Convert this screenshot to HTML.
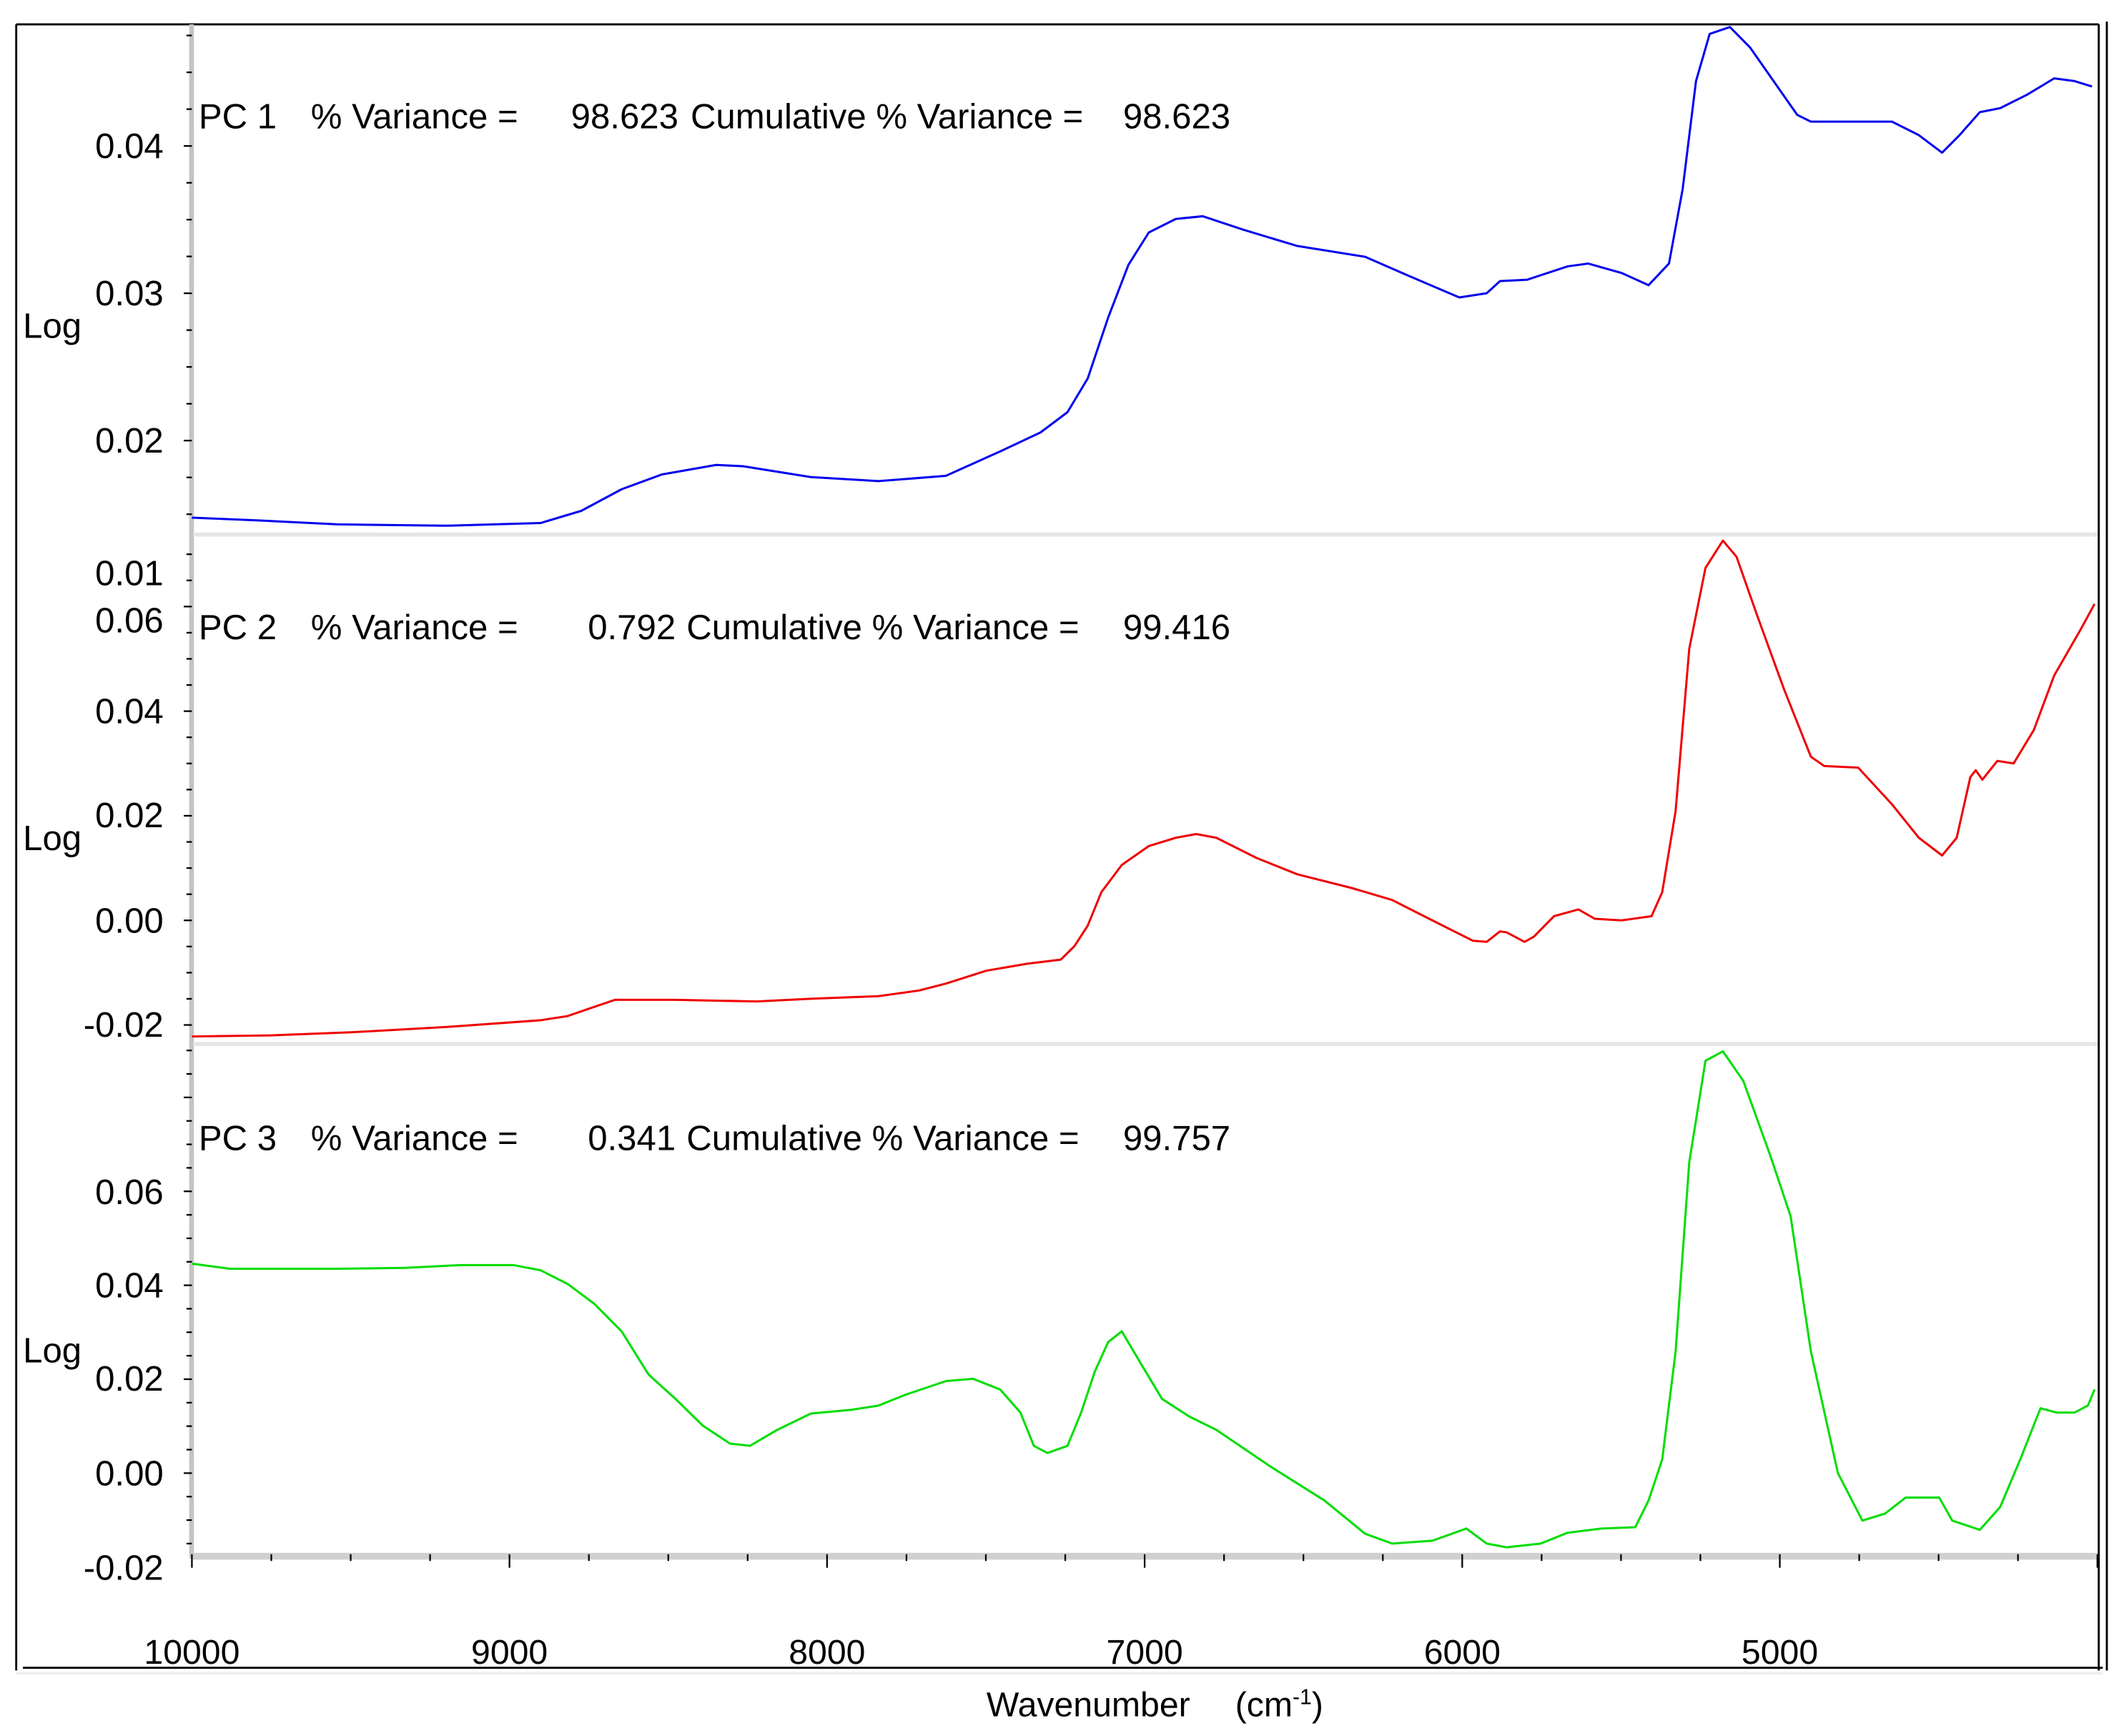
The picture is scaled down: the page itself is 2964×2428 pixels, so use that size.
<!DOCTYPE html>
<html><head><meta charset="utf-8"><style>
html,body{margin:0;padding:0;background:#fff;}
svg{display:block;font-family:"Liberation Sans",Arial,sans-serif;}
</style></head><body>
<svg id="chart" width="2964" height="2428" viewBox="0 0 1568 1284.5" preserveAspectRatio="none" xmlns="http://www.w3.org/2000/svg">
<g>
<line x1="12" y1="18" x2="12" y2="1236" stroke="#000" stroke-width="1.5"/>
<line x1="12" y1="18" x2="1553" y2="18" stroke="#000" stroke-width="1.5"/>
<line x1="1553" y1="18" x2="1553" y2="1236" stroke="#000" stroke-width="1.5"/>
<line x1="1559" y1="16" x2="1559" y2="1236" stroke="#000" stroke-width="1.5"/>
<line x1="17" y1="1234" x2="1556" y2="1234" stroke="#000" stroke-width="1.5"/>
<line x1="12" y1="1238" x2="1556" y2="1238" stroke="#eee" stroke-width="2"/>
</g>
<g id="axes"></g>
<g id="series"></g>
<g font-size="25.5">
<text x="730" y="1270">Wavenumber</text>
<text x="914" y="1270">(cm<tspan font-size="16" dy="-9">-1</tspan><tspan dy="9">)</tspan></text>
</g>
</svg>
<script>
// x axis data
const xTicks = [10000, 9000, 8000, 7000, 6000, 5000];
// PC1
const pc1Wn = [10000,9796,9540,9200,8902,8774,8647,8519,8349,8264,8051,7838,7626,7455,7328,7243,7179,7115,7051,6987,6902,6817,6689,6519,6306,6179,6009,5923,5881,5796,5668,5604,5498,5413,5349,5306,5264,5221,5157,5094,4945,4902,4647,4562,4489,4434,4370,4306,4221,4136,4072,4017];
const pc1Val = [0.01477,0.01459,0.01431,0.01422,0.01440,0.01523,0.01670,0.01771,0.01835,0.01826,0.01752,0.01725,0.01761,0.01927,0.02055,0.02193,0.02422,0.02835,0.03193,0.03413,0.03505,0.03523,0.03431,0.03321,0.03248,0.03128,0.02972,0.03000,0.03083,0.03092,0.03183,0.03202,0.03138,0.03055,0.03202,0.03706,0.04440,0.04761,0.04807,0.04670,0.04211,0.04165,0.04165,0.04073,0.03954,0.04073,0.04229,0.04257,0.04349,0.04459,0.04440,0.04404];
// PC2
const pc2Wn = [10000,9753,9498,9200,8902,8817,8732,8668,8477,8221,8051,7838,7711,7626,7498,7370,7264,7221,7179,7136,7072,6987,6902,6838,6774,6647,6519,6349,6221,6094,5966,5923,5881,5860,5804,5774,5711,5634,5583,5498,5404,5370,5328,5285,5234,5179,5136,5072,4987,4902,4860,4753,4647,4562,4489,4443,4400,4383,4362,4315,4264,4200,4136,4051,4009];
const pc2Val = [-0.0222,-0.0220,-0.0214,-0.0204,-0.0191,-0.0183,-0.0165,-0.0152,-0.0152,-0.0155,-0.0150,-0.0145,-0.0134,-0.0121,-0.0096,-0.0083,-0.0075,-0.0049,-0.0010,0.0054,0.0106,0.0142,0.0158,0.0165,0.0158,0.0119,0.0088,0.0062,0.0039,0.0000,-0.0039,-0.0041,-0.0021,-0.0023,-0.0041,-0.0031,0.0008,0.0021,0.0003,0.0000,0.0008,0.0054,0.0209,0.0519,0.0674,0.0726,0.0695,0.0584,0.0442,0.0313,0.0295,0.0292,0.0222,0.0158,0.0124,0.0158,0.0274,0.0287,0.0269,0.0305,0.0300,0.0364,0.0468,0.0558,0.0605];
// PC3
const pc3Wn = [10000,9881,9540,9328,9157,8987,8902,8817,8732,8647,8562,8477,8391,8306,8243,8157,8051,7923,7838,7753,7626,7540,7455,7391,7349,7306,7243,7200,7157,7115,7072,7009,6945,6860,6774,6604,6434,6306,6221,6094,5987,5923,5860,5753,5668,5562,5455,5413,5370,5328,5285,5234,5179,5115,5030,4966,4902,4817,4740,4668,4604,4498,4457,4370,4306,4243,4179,4128,4072,4030,4009];
const pc3Val = [0.0446,0.0435,0.0435,0.0437,0.0443,0.0443,0.0432,0.0403,0.0360,0.0302,0.0210,0.0158,0.0101,0.0063,0.0058,0.0092,0.0127,0.0135,0.0144,0.0167,0.0196,0.0201,0.0178,0.0129,0.0058,0.0043,0.0058,0.0129,0.0216,0.0279,0.0302,0.0230,0.0158,0.0121,0.0092,0.0014,-0.0058,-0.0129,-0.0150,-0.0144,-0.0118,-0.0150,-0.0158,-0.0150,-0.0127,-0.0118,-0.0115,-0.0058,0.0029,0.0259,0.0662,0.0878,0.0898,0.0835,0.0676,0.0547,0.0259,0.0000,-0.0101,-0.0086,-0.0052,-0.0052,-0.0101,-0.0121,-0.0072,0.0029,0.0138,0.0129,0.0129,0.0144,0.0178];
const pc1Ticks = [0.04, 0.03, 0.02, 0.01];
const pc2Ticks = [0.06, 0.04, 0.02, 0.00, -0.02];
const pc3Ticks = [0.06, 0.04, 0.02, 0.00, -0.02];
const pcNames = ["PC 1", "PC 2", "PC 3"];
const pcVariance = ["98.623", "0.792", "0.341"];
const pcCumulative = ["98.623", "99.416", "99.757"];

const NS = "http://www.w3.org/2000/svg";
const X0 = 142, X1 = 1552;
function xScale(wn){ return X0 + (10000 - wn) / 6000 * (X1 - X0); }
const panels = [
  {top:18, bot:395, y0:108, v0:0.04, ppu:10900, wn:pc1Wn, val:pc1Val, ticks:pc1Ticks, color:"#0000ee", name:"pc1", tick:0.0025, logY:241,
   labelPos:[108,217,326,424], titleY:95, varEnd:502, cumX:511, cumValX:831},
  {top:397, bot:772, y0:681, v0:0.0, ppu:3870, wn:pc2Wn, val:pc2Val, ticks:pc2Ticks, color:"#ee0000", name:"pc2", tick:0.005, logY:620,
   labelPos:[459,526,603,681,758], titleY:473, varEnd:500, cumX:508, cumValX:831},
  {top:774, bot:1150, y0:1090, v0:0.0, ppu:3475, wn:pc3Wn, val:pc3Val, ticks:pc3Ticks, color:"#00dd00", name:"pc3", tick:0.005, logY:999,
   labelPos:[882,951,1020,1090,1160], titleY:851, varEnd:500, cumX:508, cumValX:831}
];
const axes = document.getElementById("axes");
const series = document.getElementById("series");
function mk(tag, attrs, parent){ const e=document.createElementNS(NS,tag); for(const k in attrs) e.setAttribute(k,attrs[k]); parent.appendChild(e); return e; }

const ax = mk("rect",{x:140,y:18,width:3.5,height:1135,fill:"#c4c4c4"},axes);



panels.forEach((p,i)=>{
  const yS = v => p.y0 - (v - p.v0) * p.ppu;
  const sep = mk("rect",{x:143,y:p.bot-1,width:1409,height:3,fill:"#e6e6e6"},axes);
  
  
  const vTop = p.v0 + (p.y0 - p.top)/p.ppu, vBot = p.v0 - (p.bot - p.y0)/p.ppu;
  for(let k=Math.ceil(vBot/p.tick); k*p.tick<=vTop; k++){
    const v=k*p.tick, y=yS(v);
    const major = Math.abs(v/(p.tick*4) - Math.round(v/(p.tick*4)))<1e-6;
    const t = mk("line",{x1:major?136:138,x2:142,y1:y,y2:y,stroke:"#000","stroke-width":1.2},axes);
    
    
  }
  p.ticks.forEach((v,j)=>{
    const tx = mk("text",{x:121,y:p.labelPos[j]+9,"text-anchor":"end","font-size":26},axes);
    tx.textContent = v.toFixed(2);
    
    
  });
  const lg = mk("text",{x:17,y:p.logY+9,"font-size":26},axes);
  lg.textContent = "Log";
  
  
  const g = mk("g",{"font-size":26},axes);
  
  
  const t1 = mk("text",{x:147,y:p.titleY},g); t1.textContent = pcNames[i];
  const t2 = mk("text",{x:230,y:p.titleY},g); t2.textContent = "% Variance =";
  const t3 = mk("text",{x:p.varEnd,y:p.titleY,"text-anchor":"end"},g); t3.textContent = pcVariance[i];
  const t4 = mk("text",{x:p.cumX,y:p.titleY},g); t4.textContent = "Cumulative % Variance =";
  const t5 = mk("text",{x:p.cumValX,y:p.titleY},g); t5.textContent = pcCumulative[i];
  const pts = p.wn.map((w,k)=> xScale(w).toFixed(1)+","+yS(p.val[k]).toFixed(1)).join(" ");
  const pl = mk("polyline",{points:pts,fill:"none",stroke:p.color,"stroke-width":1.6,"stroke-linejoin":"round"},series);
  
  
});
const xb = mk("rect",{x:142,y:1149,width:1410,height:5,fill:"#d0d0d0"},axes);


for(let w=10000; w>=4000; w-=250){
  const x=xScale(w), major = w%1000===0;
  const t = mk("line",{x1:x,x2:x,y1:1150,y2:major?1160:1155,stroke:"#000","stroke-width":1.2},axes);
  
  
}
xTicks.forEach(w=>{
  const t = mk("text",{x:xScale(w),y:1231,"text-anchor":"middle","font-size":25.5},axes);
  t.textContent = String(w);
  
  
});
</script>
</body></html>
